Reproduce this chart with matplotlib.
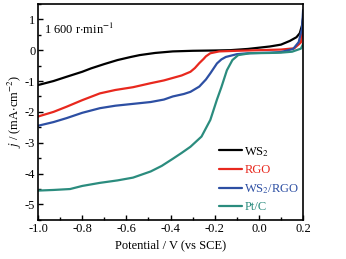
import matplotlib
matplotlib.use("Agg")
import matplotlib.pyplot as plt
from matplotlib.ticker import MultipleLocator

plt.rcParams['font.family'] = ['Liberation Serif', 'DejaVu Serif']
plt.rcParams['mathtext.fontset'] = 'stix'

# Data
ws2_x = [-1.0, -0.93, -0.87, -0.80, -0.76, -0.70, -0.64, -0.58, -0.54, -0.47, -0.39, -0.30, -0.20, -0.13, -0.05, 0.05, 0.10, 0.14, 0.17, 0.185, 0.195, 0.20]
ws2_y = [-1.13, -1.00, -0.86, -0.70, -0.59, -0.45, -0.32, -0.22, -0.16, -0.09, -0.04, -0.02, -0.01, 0.0, 0.04, 0.12, 0.18, 0.30, 0.42, 0.55, 0.80, 1.05]

rgo_x = [-1.0, -0.93, -0.87, -0.80, -0.72, -0.65, -0.57, -0.49, -0.43, -0.39, -0.35, -0.31, -0.29, -0.27, -0.25, -0.24, -0.22, -0.18, -0.10, 0.0, 0.10, 0.16, 0.19, 0.20]
rgo_y = [-2.15, -2.00, -1.83, -1.62, -1.40, -1.29, -1.20, -1.07, -0.98, -0.90, -0.82, -0.70, -0.58, -0.42, -0.28, -0.20, -0.10, -0.04, -0.02, 0.0, 0.02, 0.06, 0.25, 0.70]

wsrgo_x = [-1.0, -0.93, -0.87, -0.80, -0.72, -0.65, -0.57, -0.49, -0.43, -0.39, -0.34, -0.31, -0.27, -0.24, -0.22, -0.19, -0.17, -0.15, -0.10, -0.05, 0.05, 0.10, 0.155, 0.18, 0.195, 0.20]
wsrgo_y = [-2.45, -2.33, -2.20, -2.03, -1.88, -1.80, -1.74, -1.68, -1.60, -1.50, -1.42, -1.35, -1.18, -0.95, -0.75, -0.43, -0.30, -0.22, -0.13, -0.10, -0.08, -0.06, 0.04, 0.26, 0.70, 1.30]

ptc_x = [-1.0, -0.93, -0.855, -0.80, -0.72, -0.64, -0.57, -0.49, -0.44, -0.39, -0.35, -0.31, -0.26, -0.22, -0.19, -0.17, -0.145, -0.12, -0.094, -0.04, 0.05, 0.10, 0.15, 0.19, 0.20]
ptc_y = [-4.55, -4.53, -4.50, -4.40, -4.30, -4.22, -4.13, -3.93, -3.75, -3.52, -3.33, -3.13, -2.80, -2.26, -1.60, -1.20, -0.65, -0.32, -0.16, -0.10, -0.09, -0.08, -0.05, 0.05, 0.20]

labels = ['WS$_2$', 'RGO', 'WS$_2$/RGO', 'Pt/C']
colors = ['#000000', '#e8281e', '#2d4fa3', '#2b8c7e']
series = [(ws2_x, ws2_y), (rgo_x, rgo_y), (wsrgo_x, wsrgo_y), (ptc_x, ptc_y)]

fig = plt.figure(figsize=(3.46, 2.59), dpi=100)
ax = fig.add_axes([0.110, 0.151, 0.766, 0.834])

for (x, y), c, lab in zip(series, colors, labels):
    ax.plot(x, y, color=c, lw=1.6, label=lab, solid_capstyle='round', solid_joinstyle='round')

ax.set_xlim(-1.0, 0.2)
ax.set_ylim(-5.5, 1.5)
ax.xaxis.set_minor_locator(MultipleLocator(0.1))
ax.yaxis.set_minor_locator(MultipleLocator(0.5))
ax.set_yticks([-5, -4, -3, -2, -1, 0, 1])
ax.set_xticks([-1.0, -0.8, -0.6, -0.4, -0.2, 0.0, 0.2])
ax.set_xticklabels(['-1.0', '-0.8', '-0.6', '-0.4', '-0.2', '0.0', '0.2'])
ax.set_yticklabels(['-5', '-4', '-3', '-2', '-1', '0', '1'])
ax.tick_params(which='both', direction='in', top=False, right=False, labelsize=9, width=1.0)
ax.tick_params(which='major', length=3.5, pad=2)
ax.tick_params(which='minor', length=2)
for s in ax.spines.values():
    s.set_linewidth(1.2)

ax.set_xlabel('Potential / V (vs SCE)', fontsize=9, labelpad=3)
ax.set_ylabel(r'$j$ / (mA$\cdot$cm$^{-2}$)', fontsize=9, labelpad=1)

ax.text(-0.975, 0.68, r'1 600 r$\cdot$min$^{-1}$', fontsize=9, va='center', ha='left')

leg = ax.legend(loc='lower right', bbox_to_anchor=(1.02, -0.01), frameon=False, fontsize=9,
                handlelength=1.8, handletextpad=0.2, labelspacing=0.45, borderaxespad=0.3)
for t, c in zip(leg.get_texts(), colors):
    t.set_color(c)

fig.savefig('out.png', dpi=100)
